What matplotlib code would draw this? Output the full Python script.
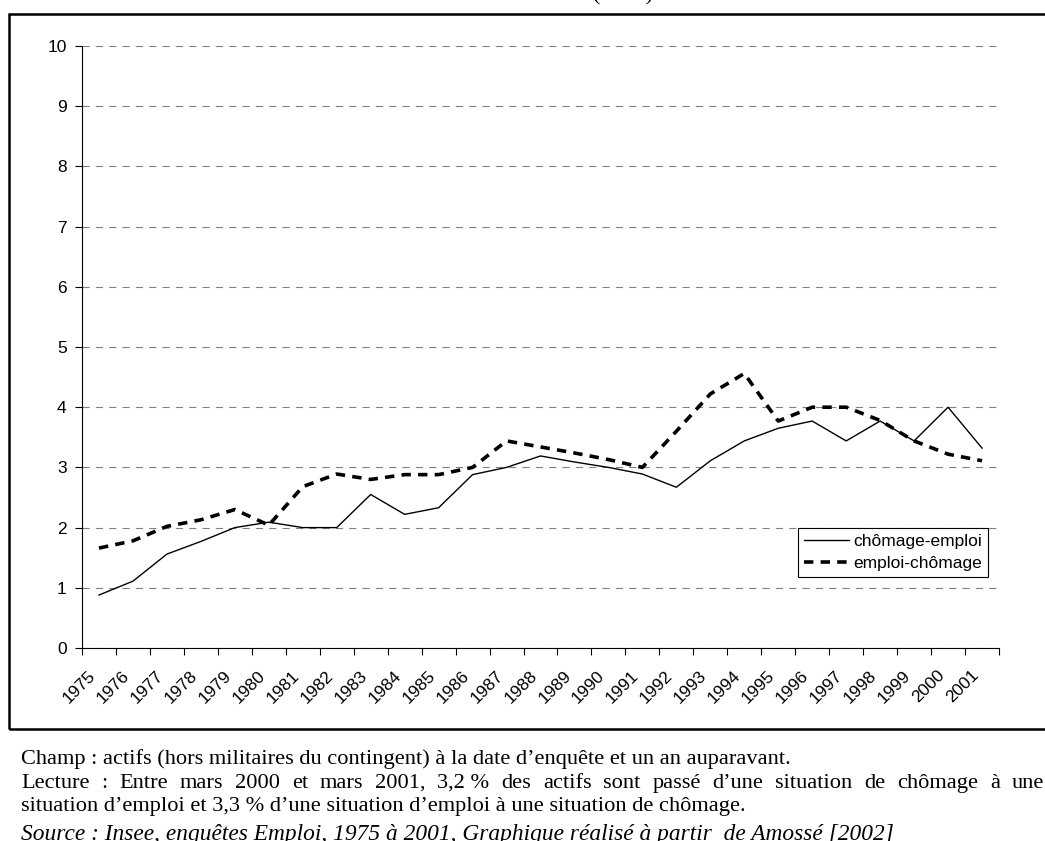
import matplotlib
matplotlib.use('Agg')
import matplotlib.pyplot as plt
import numpy as np
from matplotlib.patches import Rectangle
from matplotlib.transforms import Affine2D

# values (en %)
years = list(range(1975, 2002))
chomage_emploi = [0.88, 1.11, 1.56, 1.77, 2.00, 2.09, 2.00, 2.00, 2.55, 2.22, 2.33, 2.88, 3.00, 3.19,
                  3.09, 3.00, 2.89, 2.67, 3.11, 3.44, 3.65, 3.77, 3.44, 3.77, 3.44, 4.00, 3.32]
emploi_chomage = [1.66, 1.78, 2.02, 2.13, 2.30, 2.04, 2.68, 2.89, 2.80, 2.88, 2.88, 3.00, 3.44, 3.34,
                  3.24, 3.13, 3.00, 3.60, 4.22, 4.56, 3.77, 4.00, 4.00, 3.78, 3.44, 3.22, 3.11]
labels = ['chômage-emploi', 'emploi-chômage']

title = '(en %)'
note_lines = [
    "Champ : actifs (hors militaires du contingent) à la date d’enquête et un an auparavant.",
    "Lecture : Entre mars 2000 et mars 2001, 3,2 % des actifs sont passé d’une situation de chômage à une",
    "situation d’emploi et 3,3 % d’une situation d’emploi à une situation de chômage.",
    "Source : Insee, enquêtes Emploi, 1975 à 2001, Graphique réalisé à partir  de Amossé [2002]",
]

plt.rcParams['font.family'] = 'Liberation Sans'

W, H = 1045, 841
fig = plt.figure(figsize=(W / 100, H / 100), dpi=100)
ax = fig.add_axes([82 / W, 1 - 648 / H, (999 - 82) / W, (648 - 46) / H])

x = np.arange(len(years)) + 0.5
ax.plot(x, chomage_emploi, color='black', lw=1.0, label=labels[0])
ax.plot(x, emploi_chomage, color='black', lw=2.6, linestyle=(0, (2.6, 2.0)), label=labels[1])

ax.set_xlim(0, len(years))
ax.set_ylim(0, 10)
ax.set_yticks(range(11))
ax.set_axisbelow(True)
ax.yaxis.grid(True, color='#808080', lw=0.8, linestyle=(0, (6.5, 5.5)))

for s in ['top', 'right']:
    ax.spines[s].set_visible(False)
for s in ['left', 'bottom']:
    ax.spines[s].set_linewidth(0.8)

ax.set_xticks(np.arange(len(years) + 1))
ax.set_xticklabels([])
ax.set_xticks(x, [str(y) for y in years], minor=True, rotation=45,
              ha='right', va='center', rotation_mode='anchor')
ax.tick_params(axis='x', which='major', length=5, width=0.8)
ax.tick_params(axis='x', which='minor', length=0, pad=18, labelsize=12.5)
ax.tick_params(axis='y', length=5, width=0.8, pad=6, labelsize=12.5)
for lab in ax.get_xticklabels(minor=True):
    lab.set_transform(lab.get_transform() + Affine2D().translate(-6, 0))

leg = ax.legend(loc='upper left', bbox_to_anchor=(798 / W, 1 - 528 / H),
                bbox_transform=fig.transFigure, fancybox=False, edgecolor='black',
                framealpha=1, fontsize=12.5, handlelength=2.6, handletextpad=0.25,
                borderpad=0.35, labelspacing=0.4, borderaxespad=0)
leg.get_frame().set_linewidth(0.8)

# outer frame of the chart block
fig.patches.append(Rectangle((9 / W, 1 - 729 / H), (1060 - 9) / W, (729 - 13.5) / H,
                             transform=fig.transFigure, fill=False, lw=1.8,
                             ec='black', clip_on=False))

fig.text(623 / W, 1 - 5 / H, title, family='Liberation Serif', fontsize=16,
         ha='center', va='bottom')

# notes under the chart
fs = 16.1
x0 = 21
baselines = [764, 788, 811, 840]
for i, line in enumerate(note_lines):
    if i == 3:
        fig.text(x0 / W, 1 - baselines[i] / H, line, family='Liberation Serif',
                 fontsize=16.8, style='italic', va='baseline')
    elif i != 1:
        fig.text(x0 / W, 1 - baselines[i] / H, line, family='Liberation Serif',
                 fontsize=fs, va='baseline')
    else:
        # justified line
        words = line.replace('3,2 %', '3,2\u00a0%').split(' ')
        r = fig.canvas.get_renderer()
        texts = [fig.text(0, 1 - baselines[i] / H, w, family='Liberation Serif',
                          fontsize=fs, va='baseline') for w in words]
        widths = [t.get_window_extent(r).width for t in texts]
        gap = (1044 - x0 - sum(widths)) / (len(words) - 1)
        pos = x0
        for t, w in zip(texts, widths):
            t.set_x(pos / W)
            pos += w + gap

fig.savefig('out.png', dpi=100)
